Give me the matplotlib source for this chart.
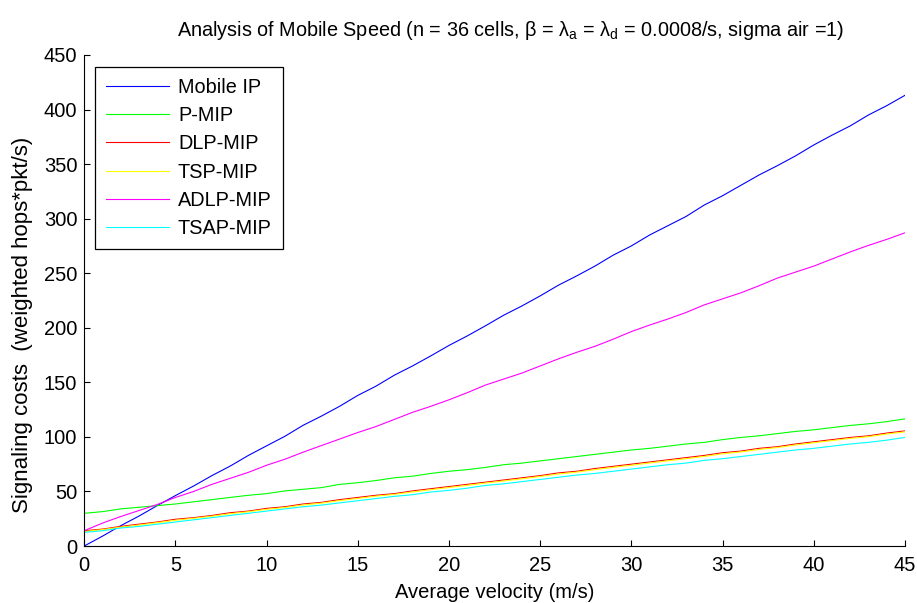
import matplotlib
matplotlib.use("Agg")
import matplotlib.pyplot as plt

plt.rcParams['font.family'] = ['Liberation Sans', 'DejaVu Sans']

velocity = list(range(0, 46))

mobile_ip = [0, 9.0, 18.6, 27.4, 37.0, 46.2, 55.0, 64.5, 73.2, 83.0,
             91.8, 100.5, 110.6, 119.0, 128.0, 138.0, 146.5, 156.5, 165.0, 174.2,
             183.8, 192.5, 201.8, 211.5, 220.0, 229.2, 239.0, 247.5, 256.5, 266.5,
             275.0, 285.0, 293.5, 302.0, 312.5, 321.0, 330.5, 340.0, 348.5, 357.5,
             367.5, 376.5, 385.0, 395.0, 403.5, 413.0]
p_mip = [30.0, 31.5, 34.0, 35.5, 37.0, 38.5, 40.5, 42.5, 44.5, 46.5,
         48.0, 50.5, 52.0, 53.5, 56.5, 58.0, 60.0, 62.5, 64.0, 66.5,
         68.5, 70.0, 72.0, 74.5, 76.0, 78.0, 80.0, 82.0, 84.0, 86.0,
         88.0, 89.5, 91.5, 93.5, 95.0, 97.5, 99.5, 101.0, 103.0, 105.0,
         106.5, 108.5, 110.5, 112.0, 114.0, 116.5]
dlp_mip = [14.0, 15.5, 18.0, 20.0, 22.0, 24.5, 26.0, 28.0, 30.5, 32.0,
           34.5, 36.0, 38.5, 40.0, 42.5, 44.5, 46.5, 48.0, 50.5, 52.5,
           54.5, 56.5, 58.5, 60.5, 62.5, 64.5, 67.0, 68.5, 71.0, 73.0,
           75.0, 77.0, 79.0, 81.0, 83.0, 85.5, 87.0, 89.5, 91.0, 93.5,
           95.5, 97.5, 99.5, 101.0, 103.5, 105.5]
tsp_mip = [13.2, 15.0, 17.3, 19.2, 21.4, 23.6, 25.4, 27.3, 29.6, 31.4,
           33.6, 35.3, 37.6, 39.3, 41.6, 43.6, 45.7, 47.3, 49.6, 51.6,
           53.6, 55.6, 57.7, 59.6, 61.6, 63.7, 66.0, 67.7, 70.0, 72.1,
           74.0, 76.1, 78.1, 80.0, 82.1, 84.5, 86.2, 88.5, 90.2, 92.6,
           94.6, 96.6, 98.6, 100.2, 102.6, 104.6]
adlp_mip = [14.0, 21.0, 27.0, 32.5, 38.0, 44.5, 50.0, 56.5, 62.0, 67.5,
            74.0, 79.5, 86.0, 92.0, 98.0, 104.0, 109.5, 116.0, 122.5, 128.0,
            134.0, 140.5, 147.5, 153.0, 158.5, 165.0, 171.5, 177.5, 183.0, 189.5,
            196.5, 202.5, 208.0, 214.0, 221.0, 226.5, 232.0, 238.5, 245.5, 251.0,
            256.5, 263.0, 269.5, 275.5, 281.0, 287.0]
tsap_mip = [12.5, 14.0, 16.5, 18.0, 20.0, 22.0, 24.0, 26.0, 28.0, 30.0,
            32.0, 34.0, 36.0, 37.5, 39.5, 41.5, 43.5, 45.5, 47.0, 49.5,
            51.0, 53.0, 55.5, 57.0, 59.0, 61.0, 63.0, 65.0, 66.5, 68.5,
            70.5, 72.5, 74.5, 76.0, 78.5, 80.0, 82.0, 84.0, 86.0, 88.0,
            89.5, 91.5, 93.5, 95.0, 97.0, 99.5]

series_names = ['Mobile IP', 'P-MIP', 'DLP-MIP', 'TSP-MIP', 'ADLP-MIP', 'TSAP-MIP']
series_values = [mobile_ip, p_mip, dlp_mip, tsp_mip, adlp_mip, tsap_mip]
series_colors = ['#0000ff', '#00ff00', '#ff0000', '#ffff00', '#ff00ff', '#00ffff']

x_ticks = [0, 5, 10, 15, 20, 25, 30, 35, 40, 45]
y_ticks = [0, 50, 100, 150, 200, 250, 300, 350, 400, 450]

fig = plt.figure(figsize=(9.17, 6.03), dpi=100)
ax = fig.add_axes([0.0918, 0.0945, 0.895, 0.8143])

for name, vals, col in zip(series_names, series_values, series_colors):
    ax.plot(velocity, vals, color=col, lw=0.8, label=name)

ax.set_xlim(0, 45)
ax.set_ylim(0, 450)
ax.set_xticks(x_ticks)
ax.set_yticks(y_ticks)
ax.spines['top'].set_visible(False)
ax.spines['right'].set_visible(False)
for s in ['left', 'bottom']:
    ax.spines[s].set_linewidth(0.8)
ax.tick_params(direction='in', length=4, width=0.8, labelsize=14.5)
ax.tick_params(axis='x', pad=7)
ax.tick_params(axis='y', pad=5)

ax.set_xlabel('Average velocity (m/s)', fontsize=14.5, labelpad=6)
ax.set_ylabel('Signaling costs  (weighted hops*pkt/s)', fontsize=16)
ax.yaxis.set_label_coords(-0.062, 0.45)
ax.set_title('Analysis of Mobile Speed (n = 36 cells, β = λ$_\\mathregular{a}$ = λ$_\\mathregular{d}$ = 0.0008/s, sigma air =1)',
             fontsize=14.3, pad=14, x=0.52)

leg = ax.legend(loc='upper left', bbox_to_anchor=(0.0134, 0.976), borderaxespad=0,
                fontsize=14.3, frameon=True, fancybox=False, edgecolor='black',
                framealpha=1, handlelength=3.17, labelspacing=0.47, borderpad=0.55,
                handletextpad=0.45)
leg.get_frame().set_linewidth(0.9)

fig.savefig('out.png', dpi=100)
